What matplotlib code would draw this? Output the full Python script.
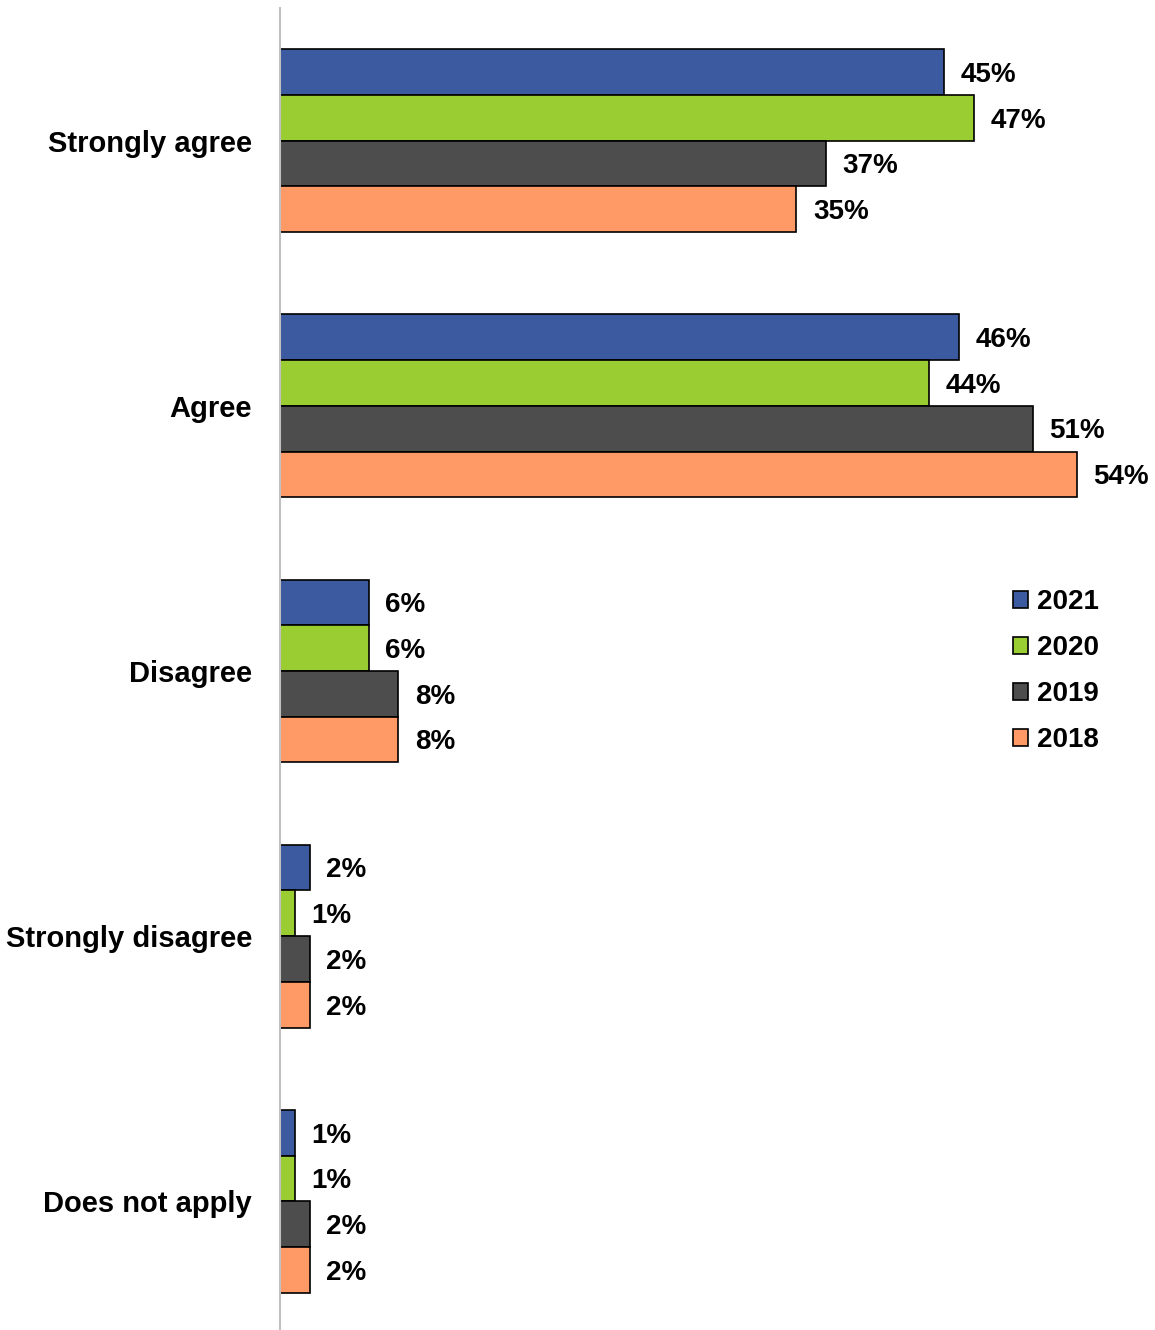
import matplotlib
matplotlib.use("Agg")
import matplotlib.pyplot as plt
import numpy as np

categories = ["Strongly agree", "Agree", "Disagree", "Strongly disagree", "Does not apply"]
years = ["2021", "2020", "2019", "2018"]
values_2021 = [45, 46, 6, 2, 1]
values_2020 = [47, 44, 6, 1, 1]
values_2019 = [37, 51, 8, 2, 2]
values_2018 = [35, 54, 8, 2, 2]
series = [values_2021, values_2020, values_2019, values_2018]
colors = ["#3C5AA0", "#9ACD32", "#4D4D4D", "#FF9966"]

plt.rcParams['font.family'] = ['Liberation Sans', 'DejaVu Sans']

fig = plt.figure(figsize=(11.55, 13.3), dpi=100)
ax = fig.add_axes([280/1155, -4/1330, 1 - 280/1155, 1326/1330])

h = 0.1725
y = np.arange(len(categories))
for k, (vals, col, yr) in enumerate(zip(series, colors, years)):
    pos = y + (k - 1.5) * h
    ax.barh(pos, vals, height=h, color=col, edgecolor="black", linewidth=1.2, label=yr)
    for p, v in zip(pos, vals):
        ax.annotate(f"{v}%", xy=(v, p), xytext=(12, -2), textcoords="offset points",
                    ha="left", va="center", fontsize=20, fontweight="bold")

ax.set_ylim(4.5, -0.5)
ax.set_xlim(0, 59.3)
ax.set_yticks(y)
ax.set_yticklabels(categories, fontsize=21, fontweight="bold")
ax.tick_params(axis="y", length=0, pad=20)
ax.set_xticks([])
for s in ["top", "right", "bottom"]:
    ax.spines[s].set_visible(False)
ax.spines["left"].set_color("#C0C0C0")
ax.spines["left"].set_linewidth(1.5)

ax.legend(loc="center left", bbox_to_anchor=(988/1155, 1 - 671/1330),
          bbox_transform=fig.transFigure, frameon=False,
          prop={"size": 20, "weight": "bold"}, handlelength=0.55, handleheight=0.55,
          handletextpad=0.3, labelspacing=0.72)

fig.savefig("out.png", dpi=100)
